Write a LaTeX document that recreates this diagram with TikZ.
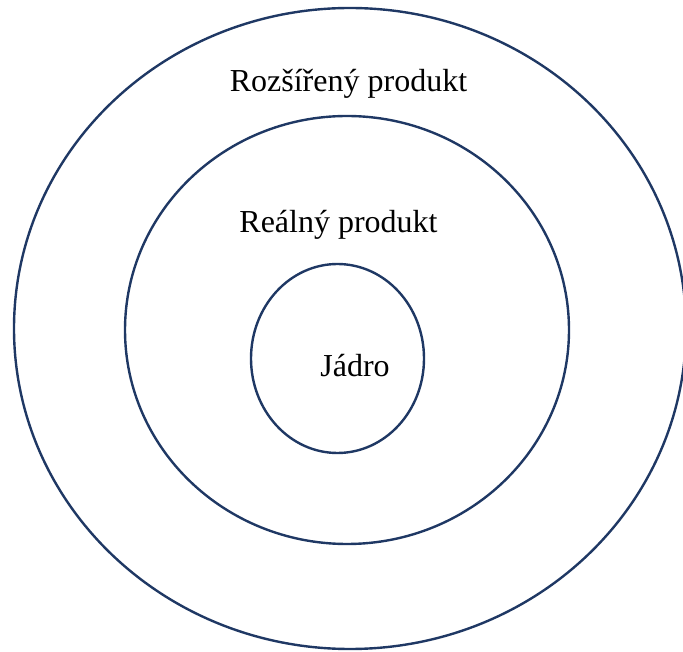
\documentclass[tikz,border=0pt]{standalone}
\usepackage{fontspec}
\setmainfont{Liberation Serif}
\usetikzlibrary{shapes.geometric}
\definecolor{ring}{HTML}{1F3864}
\begin{document}
\begin{tikzpicture}[x=1pt,y=1pt,
  ringline/.style={draw=ring,line width=2.4pt,ellipse,inner sep=0pt,outer sep=0pt},
  lbl/.style={anchor=base,inner sep=0pt,font=\fontsize{32}{38}\selectfont}]
\useasboundingbox (0,0) rectangle (683,651);
\node[ringline,minimum width=672pt,minimum height=641pt] (outer) at (350,322.5) {};
\node[ringline,minimum width=444pt,minimum height=428pt] (middle) at (347,321) {};
\node[ringline,minimum width=173pt,minimum height=189pt] (inner) at (337.5,292.5) {};
\node[lbl] (t1) at (348.5,559) {Rozšířený produkt};
\node[lbl] (t2) at (338.5,418) {Reálný produkt};
\node[lbl] (t3) at (355,274) {Jádro};
\end{tikzpicture}
\end{document}
